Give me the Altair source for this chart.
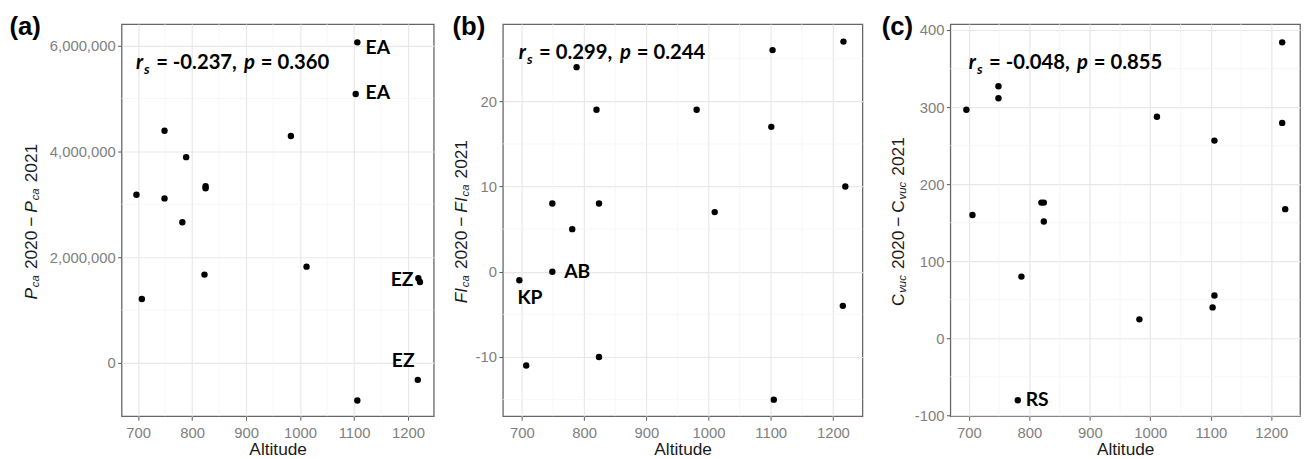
import altair as alt
import pandas as pd

# ---------------- data ----------------
X_DOMAIN = [669.5, 1247.5]
X_TICKS = [700, 800, 900, 1000, 1100, 1200]
X_MINOR = [750, 850, 950, 1050, 1150]

# (a)
A_ALT = [1106, 1103, 749, 983, 789, 825, 825, 697, 749, 782, 1012, 823, 1219, 1222, 707, 1218, 1106]
A_VAL = [6060000, 5085000, 4390000, 4290000, 3890000, 3340000, 3300000, 3180000, 3110000,
         2660000, 1820000, 1670000, 1600000, 1530000, 1210000, -320000, -710000]
A_DOMAIN = [-1008000, 6405000]
A_TICKS = [0, 2000000, 4000000, 6000000]
A_MINOR = [1000000, 3000000, 5000000]
A_LABELS = ["EA", "EA", "EZ", "EZ"]
A_LABEL_X = [1144, 1144, 1189, 1191]
A_LABEL_Y = [5960000, 5100000, 1570000, 30000]
A_STAT = ["-0.237,", "0.360"]
A_STAT_AT = [696, 5660000]

# (b)
B_ALT = [788, 1103, 1217, 820, 981, 1101, 1220, 749, 824, 1010, 781, 749, 696, 1216, 824, 707, 1105]
B_VAL = [24, 26, 27, 19, 19, 17, 10, 8, 8, 7, 5, 0, -1, -4, -10, -11, -15]
B_DOMAIN = [-16.95, 29.05]
B_TICKS = [-10, 0, 10, 20]
B_MINOR = [-15, -5, 5, 15, 25]
B_LABELS = ["AB", "KP"]
B_LABEL_X = [789, 713]
B_LABEL_Y = [0, -3.05]
B_STAT = ["0.299,", "0.244"]
B_STAT_AT = [695, 25.7]

# (c)
C_ALT = [749, 749, 696, 1218, 1011, 1218, 1106, 820, 824, 706, 824, 1223, 787, 1106, 1103, 982, 781]
C_VAL = [327, 311.5, 296.5, 384, 287.5, 279.5, 256.5, 176, 176, 160, 151.5, 167.5, 80, 55.5, 40, 24.5, -80.5]
C_DOMAIN = [-101.3, 407.7]
C_TICKS = [-100, 0, 100, 200, 300, 400]
C_MINOR = [-50, 50, 150, 250, 350]
C_LABELS = ["RS"]
C_LABEL_X = [813]
C_LABEL_Y = [-80]
C_STAT = ["-0.048,", "0.855"]
C_STAT_AT = [700, 357]

# y-axis titles: (text, style, subscript?)
A_TITLE = [("P", "italic", 0), ("ca", "italic", 1), ("2020", "normal", 0), ("\u2212", "normal", 0),
           ("P", "italic", 0), ("ca", "italic", 1), ("2021", "normal", 0)]
B_TITLE = [("FI", "italic", 0), ("ca", "italic", 1), ("2020", "normal", 0), ("\u2212", "normal", 0),
           ("FI", "italic", 0), ("ca", "italic", 1), ("2021", "normal", 0)]
C_TITLE = [("C", "normal", 0), ("vuc", "italic", 1), ("2020", "normal", 0), ("\u2212", "normal", 0),
           ("C", "normal", 0), ("vuc", "italic", 1), ("2021", "normal", 0)]

# ---------------- styling ----------------
H = 397
SANS = "Liberation Sans, Arial"
ANNO = "Lato"
TITLE_FS = 17.5
SUB_FS = 11.5
STAT_FS = 20.5
WID = {"P": 0.667, "F": 0.611, "I": 0.278, "C": 0.722, "c": 0.5, "a": 0.556, "v": 0.5, "u": 0.556,
       "\u2212": 0.584}
for d in "0123456789":
    WID[d] = 0.556


def tw(s, fs):
    return sum(WID[ch] for ch in s) * fs


def xenc():
    return alt.X("x:Q", scale=alt.Scale(domain=X_DOMAIN, nice=False, zero=False),
                 axis=alt.Axis(values=X_TICKS, title="Altitude", format="d"))


def yenc(domain, ticks):
    return alt.Y("y:Q", scale=alt.Scale(domain=domain, nice=False, zero=False),
                 axis=alt.Axis(values=ticks, title=None,
                               labelExpr="datum.value < 0 ? '-' + format(-datum.value, ',') : format(datum.value, ',')"))


def panel(letter, xs, ys, domain, ticks, minor, labs, lab_x, lab_y, stat, stat_at, title,
          width, title_x, letter_x, stat_dx):
    X = xenc
    Y = lambda: yenc(domain, ticks)
    layers = []
    layers.append(alt.Chart(pd.DataFrame({"x": X_MINOR})).mark_rule(color="#f3f3f3", strokeWidth=0.8)
                  .encode(x=X()))
    layers.append(alt.Chart(pd.DataFrame({"y": minor})).mark_rule(color="#f3f3f3", strokeWidth=0.8)
                  .encode(y=Y()))
    layers.append(alt.Chart(pd.DataFrame({"x": xs, "y": ys})).mark_circle(size=42, color="black", opacity=1)
                  .encode(x=X(), y=Y()))
    layers.append(alt.Chart(pd.DataFrame({"x": lab_x, "y": lab_y, "t": labs}))
                  .mark_text(font=ANNO, fontWeight="bold", fontSize=19.5, align="center", baseline="middle",
                             color="black")
                  .encode(x=X(), y=Y(), text="t:N"))
    # statistics annotation, composed of parts
    parts = [("r", "italic", STAT_FS, 0), ("s", "italic", 14, 7), ("= " + stat[0], "normal", STAT_FS, 0),
             ("p", "italic", STAT_FS, 0), ("= " + stat[1], "normal", STAT_FS, 0)]
    for (t, st, fs, dy), dx in zip(parts, stat_dx):
        layers.append(alt.Chart(pd.DataFrame({"x": [stat_at[0]], "y": [stat_at[1]], "t": [t]}))
                      .mark_text(font=ANNO, fontWeight="bold", fontStyle=st, fontSize=fs, align="left",
                                 baseline="middle", dx=dx, dy=dy, color="black")
                      .encode(x=X(), y=Y(), text="t:N"))
    # rotated y title
    offs = []
    pos = 0.0
    for i, (t, st, sub) in enumerate(title):
        fs = SUB_FS if sub else TITLE_FS
        if i > 0:
            if sub:
                pos += 0.8
            elif t == "\u2212" or title[i - 1][0] == "\u2212":
                pos += 4
            else:
                pos += 0.35 * TITLE_FS
        offs.append(pos)
        pos += tw(t, fs)
    total = pos
    start = 200 + total / 2
    for (t, st, sub), o in zip(title, offs):
        fs = SUB_FS if sub else TITLE_FS
        layers.append(alt.Chart(pd.DataFrame({"t": [t]}))
                      .mark_text(font=SANS, fontStyle=st, fontSize=fs, angle=270, align="left",
                                 baseline="alphabetic", dx=o, dy=2 if sub else 0, color="#1a1a1a")
                      .encode(x=alt.value(title_x), y=alt.value(start), text="t:N"))
    # panel letter
    layers.append(alt.Chart(pd.DataFrame({"t": [letter]}))
                  .mark_text(font=SANS, fontWeight="bold", fontSize=26, align="left", baseline="middle",
                             color="black")
                  .encode(x=alt.value(letter_x), y=alt.value(3.5), text="t:N"))
    return alt.layer(*layers).properties(width=width, height=H)


DX_NEG = [0, 8.3, 20.5, 109.5, 126.5]
DX_POS = [0, 8.3, 20.5, 102.5, 119.5]

pa = panel("(a)", A_ALT, A_VAL, A_DOMAIN, A_TICKS, A_MINOR, A_LABELS, A_LABEL_X, A_LABEL_Y, A_STAT,
           A_STAT_AT, A_TITLE, 316, -85.5, -113.5, DX_NEG)
pb = panel("(b)", B_ALT, B_VAL, B_DOMAIN, B_TICKS, B_MINOR, B_LABELS, B_LABEL_X, B_LABEL_Y, B_STAT,
           B_STAT_AT, B_TITLE, 364, -36, -51, DX_POS)
pc = panel("(c)", C_ALT, C_VAL, C_DOMAIN, C_TICKS, C_MINOR, C_LABELS, C_LABEL_X, C_LABEL_Y, C_STAT,
           C_STAT_AT, C_TITLE, 354, -46.7, -69.5, DX_NEG)

chart = (
    alt.hconcat(pa, pb, pc, spacing=16)
    .properties(padding={"left": 0, "top": 2.5, "right": 0, "bottom": 0}, background="white")
    .configure_view(stroke="#666666", strokeWidth=1.3)
    .configure_axis(labelFont=SANS, labelFontSize=15, labelColor="#808080", tickColor="#555555",
                    tickSize=4, tickWidth=1, domain=False, grid=True, gridColor="#e8e8e8", gridWidth=1.2,
                    titleFont=SANS, titleFontSize=TITLE_FS, titleColor="#1a1a1a", titleFontWeight="normal")
    .configure_axisX(labelPadding=6, titlePadding=0)
    .configure_axisY(labelPadding=2.5)
)

chart.save("out.html", embed_options={"renderer": "svg", "actions": False})
